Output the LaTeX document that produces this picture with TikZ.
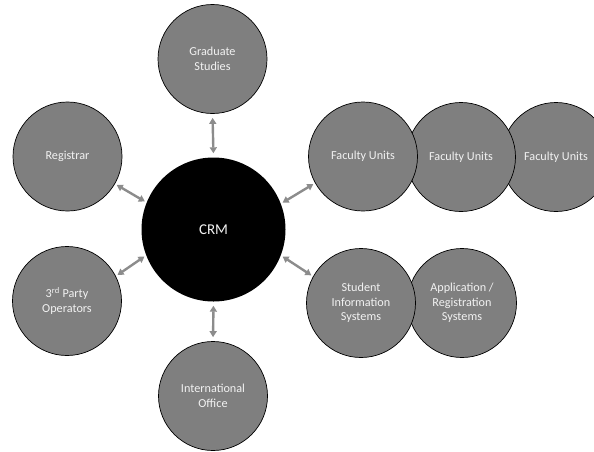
\documentclass[tikz,border=0pt]{standalone}
\usepackage{fontspec}
\setmainfont{Carlito}
\usetikzlibrary{arrows.meta}
\definecolor{unitgray}{HTML}{7F7F7F}
\definecolor{linkgray}{HTML}{8C8C8C}
\definecolor{labelgray}{HTML}{F2F2F2}

\begin{document}
\begin{tikzpicture}[x=1pt,y=-1pt,
      unit/.style={circle,draw=black,line width=0.7pt,fill=unitgray,text=labelgray,
         minimum size=109pt,inner sep=0pt,align=center,font=\fontsize{12.2}{14.5}\selectfont},
      link/.style={linkgray,line width=2.4pt,shorten <=2pt,shorten >=2pt,
         {Triangle[length=6pt,width=7pt]}-{Triangle[length=6pt,width=7pt]}}]
         \clip (0,0) rectangle (594,451) ;
         % centre
         \node[circle,fill=black,minimum size=144pt,inner sep=0pt,text=labelgray,
            font=\fontsize{15}{18}\selectfont] (crm) at (213.5,229.5) {CRM} ;
         % units round it
         \node[unit] (grad) at (212.5,59) {Graduate\\Studies} ;
         \node[unit] (intl) at (213,396) {International\\Office} ;
         \node[unit] (reg) at (67.5,156.5) {Registrar} ;
         \node[unit] (third) at (67,301) {3\textsuperscript{rd} Party\\Operators} ;
         \node[unit] (fu3) at (556,157) {Faculty Units} ;
         \node[unit] (fu2) at (461,157) {Faculty Units} ;
         \node[unit] (fu1) at (363,156.5) {Faculty Units} ;
         \node[unit] (app) at (462,303) {Application /\\Registration\\Systems} ;
         \node[unit] (sis) at (361,303) {Student\\Information\\Systems} ;
         % links
         \draw[link,shorten <=4pt,shorten >=4pt] (crm.90) -- (grad.-90) ;
         \draw[link,shorten <=4pt,shorten >=4pt] (crm.-90) -- (intl.90) ;
         \draw[link] (crm.158) -- (reg.-30) ;
         \draw[link] (crm.201.6) -- (third.27.5) ;
         \draw[link] (crm.21) -- (fu1.209) ;
         \draw[link] (crm.-21.6) -- (sis.151) ;
      \end{tikzpicture}
\end{document}
